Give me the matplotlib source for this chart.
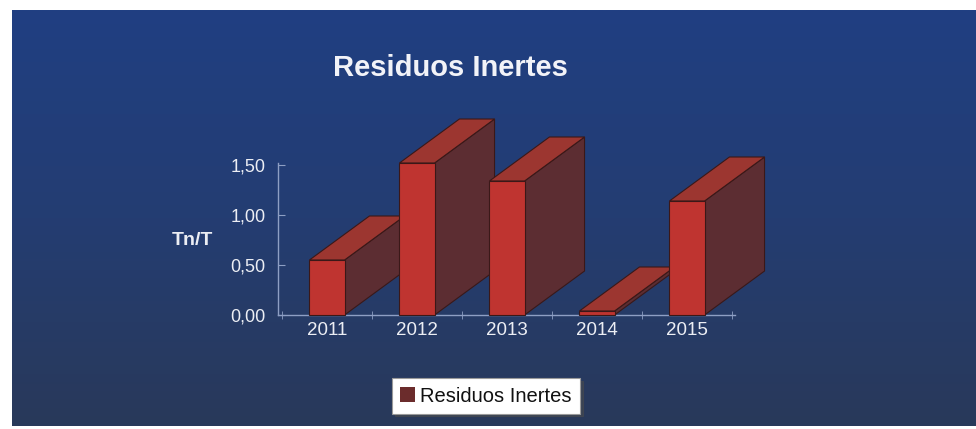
import numpy as np
import matplotlib
matplotlib.use("Agg")
import matplotlib.pyplot as plt
from matplotlib.patches import Polygon, Patch
from matplotlib.colors import LinearSegmentedColormap

# Data
years = ["2011", "2012", "2013", "2014", "2015"]
values = [0.55, 1.52, 1.34, 0.04, 1.14]
yticks = [0.0, 0.5, 1.0, 1.5]
ytick_labels = ["0,00", "0,50", "1,00", "1,50"]
title = "Residuos Inertes"
ylabel = "Tn/T"
series_name = "Residuos Inertes"

plt.rcParams["font.family"] = ["Liberation Sans", "DejaVu Sans"]

W, H = 976, 429
fig = plt.figure(figsize=(W / 100, H / 100), dpi=100)
fig.patch.set_facecolor("white")

# Blue gradient panel
bg = fig.add_axes([12 / W, 3 / H, (W - 12) / W, (H - 13) / H])
bg.set_axis_off()
cmap = LinearSegmentedColormap.from_list("panel", ["#203f82", "#243d72", "#29395a"])
grad = np.linspace(0, 1, 256).reshape(-1, 1)
bg.imshow(grad, aspect="auto", cmap=cmap, extent=[0, 1, 0, 1], origin="upper")
bg.set_xlim(0, 1)
bg.set_ylim(0, 1)

# Main plotting area (pixel-based placement)
x0_px, x1_px = 278, 735
y0_px = 315
ppu_y = 100.0  # pixels per value unit
ymax = 1.6
cat_px = 90.0
first_px = 327
ax = fig.add_axes([x0_px / W, (H - y0_px) / H, (x1_px - x0_px) / W, ymax * ppu_y / H])
ax.set_facecolor("none")
ax.set_xlim(-(first_px - x0_px) / cat_px, (x1_px - first_px) / cat_px)
ax.set_ylim(0, ymax)

axis_col = "#8e9fc4"
for s in ["top", "right"]:
    ax.spines[s].set_visible(False)
ax.spines["left"].set_color(axis_col)
ax.spines["bottom"].set_color(axis_col)
ax.spines["left"].set_bounds(0, 1.52)
ax.spines["left"].set_linewidth(1.0)
ax.spines["bottom"].set_linewidth(1.0)

ax.set_yticks(yticks)
ax.set_yticklabels(ytick_labels, fontsize=13, color="#eceef4")
ax.tick_params(axis="y", direction="in", length=5, color=axis_col, pad=9)
ax.set_xticks(range(len(years)))
ax.set_xticklabels(years, fontsize=13.5, color="#eceef4")
ax.tick_params(axis="x", length=0, pad=5)
ax.set_xticks(np.arange(-0.5, len(years)), minor=True)
ax.tick_params(axis="x", which="minor", direction="inout", length=6, color=axis_col)

# 3D bars
w = 0.39
dx = 60 / cat_px
dy = 44 / ppu_y
front_c = "#bf3430"
top_c = "#9c3630"
side_c = "#5c2d32"
edge_c = "#3a1818"
for i, v in enumerate(values):
    xl, xr = i - w / 2, i + w / 2
    side = Polygon([(xr, 0), (xr + dx, dy), (xr + dx, v + dy), (xr, v)],
                   closed=True, facecolor=side_c, edgecolor=edge_c, lw=0.8,
                   clip_on=False, zorder=3)
    top = Polygon([(xl, v), (xl + dx, v + dy), (xr + dx, v + dy), (xr, v)],
                  closed=True, facecolor=top_c, edgecolor=edge_c, lw=0.8,
                  clip_on=False, zorder=3)
    front = Polygon([(xl, 0), (xl, v), (xr, v), (xr, 0)],
                    closed=True, facecolor=front_c, edgecolor=edge_c, lw=0.8,
                    clip_on=False, zorder=3)
    ax.add_patch(side)
    ax.add_patch(top)
    ax.add_patch(front)

# Title and axis label
fig.text(450 / W, 1 - 68 / H, title, fontsize=21, fontweight="bold",
         color="#f2f3f8", ha="center", va="center")
fig.text(192 / W, 1 - 240 / H, ylabel, fontsize=14, fontweight="bold",
         color="#eceef4", ha="center", va="center")

# Legend
handle = Patch(facecolor="#6b2c2c", edgecolor="none", label=series_name)
leg = fig.legend(handles=[handle], loc="center",
                 bbox_to_anchor=(486 / W, 1 - 396 / H),
                 fontsize=14.5, frameon=True, fancybox=False, shadow=True,
                 handlelength=0.75, handleheight=0.75, handletextpad=0.25,
                 borderpad=0.4, borderaxespad=0)
frame = leg.get_frame()
frame.set_facecolor("white")
frame.set_edgecolor("#9a9a9a")
frame.set_linewidth(0.8)
frame.set_alpha(1)
for t in leg.get_texts():
    t.set_color("#111111")

fig.savefig("out.png", dpi=100, facecolor=fig.get_facecolor())
